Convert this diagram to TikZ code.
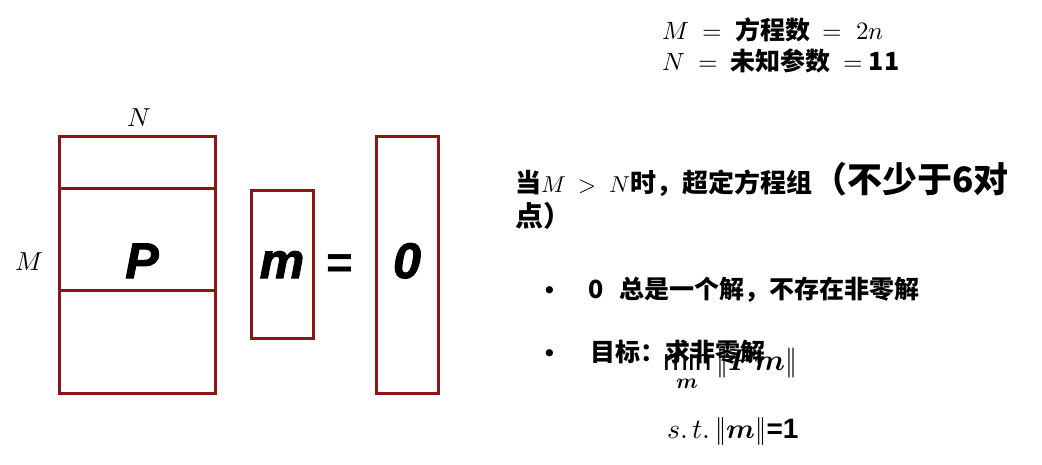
\documentclass[tikz,border=0pt]{standalone}
\usepackage{fontspec}
\usepackage{unicode-math}
\setmainfont{Liberation Sans}
\setmathfont{Latin Modern Math}
\newfontfamily\cjk{Noto Sans CJK SC}
\newfontface\heavy{Liberation Sans Bold Italic}[FakeBold=2]
\definecolor{boxred}{RGB}{140,20,20}

\begin{document}
\begin{tikzpicture}[x=1pt,y=-1pt]
  \tikzstyle{vec} = [draw=boxred, line width=3pt, inner sep=0pt];
  \tikzstyle{big} = [anchor=base, inner sep=0pt, font=\heavy\fontsize{50}{50}\selectfont];
  \tikzstyle{dim} = [inner sep=0pt, font=\fontsize{26}{30}\selectfont];
  \tikzstyle{txt} = [anchor=base west, inner sep=0pt, font=\cjk\bfseries\fontsize{25}{30}\selectfont];
  \tikzstyle{eqn} = [anchor=base west, inner sep=0pt, font=\fontsize{30}{36}\selectfont];

  \useasboundingbox (0,0) rectangle (1042,464);

  \node[vec, minimum width=156pt, minimum height=257pt] (P) at (137,264.5) {};
  \node[vec, minimum width=62pt, minimum height=148pt] (m) at (282,264) {};
  \node[vec, minimum width=62pt, minimum height=257pt] (z) at (407,264.5) {};
  \coordinate (r2) at (0,290);

  \draw[boxred, line width=3pt] (P.west |- m.north) -- (P.east |- m.north);
  \draw[boxred, line width=3pt] (P.west |- r2) -- (P.east |- r2);

  \node[big] (lP) at (142,278) {P};
  \node[big] (lm) at (282,278) {m};
  \node[big] (lz) at (407,278) {0};
  \node[font=\bfseries\fontsize{46}{46}\selectfont, inner sep=0pt] (eq) at (340,267) {=};
  \node[dim] (lN) at (139,118) {$N$};
  \node[dim] (lM) at (29,262) {$M$};

  \node[txt] (t1) at (662,39) {$M\;=\;$ 方程数 $\;=\;2n$};
  \node[txt] (t2) at (662,70) {$N\;=\;$ 未知参数 $\;=$ 11};
  \node[txt, font=\cjk\bfseries\fontsize{26}{30}\selectfont] (t3) at (515,192) {当{\fontsize{23}{28}\selectfont$M\;>\;N$}时，超定方程组{\fontsize{35}{40}\selectfont（不少于6对}};
  \node[txt, font=\cjk\bfseries\fontsize{28}{32}\selectfont] (t4) at (515,226) {点）};
  \node[txt, font=\bfseries\fontsize{25}{30}\selectfont] (b1) at (545,298) {•};
  \node[txt] (t5) at (588,298) {0\hspace{16pt}总是一个解，不存在非零解};
  \node[txt, font=\bfseries\fontsize{25}{30}\selectfont] (b2) at (545,361) {•};
  \node[txt] (t6) at (590,361) {目标：求非零解};
  \node[eqn] (t7) at (663,370) {$\displaystyle\min_{\symbfit{m}}\|\symbfit{P}\symbfit{m}\|$};
  \node[eqn, font=\fontsize{28}{32}\selectfont] (t8) at (667,438) {$s.\,t.\,\|\symbfit{m}\|${\bfseries =1}};
\end{tikzpicture}
\end{document}
